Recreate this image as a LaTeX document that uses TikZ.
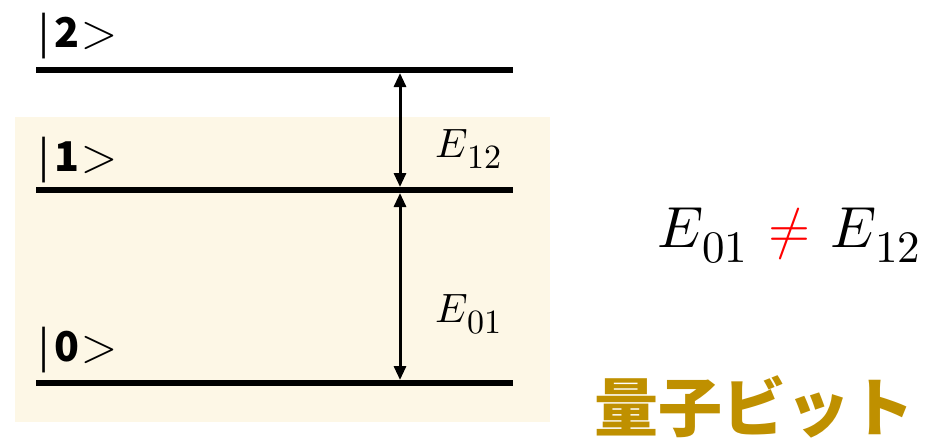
\documentclass[tikz,border=0pt]{standalone}
\usepackage{fontspec}
\usepackage{unicode-math}
\setmathfont{Latin Modern Math}
\usetikzlibrary{arrows.meta}
\newfontfamily\cjk{Noto Sans CJK JP}
\definecolor{bgcream}{RGB}{253,247,230}
\definecolor{qgold}{RGB}{191,144,0}
\tikzset{
  level/.style={line width=6pt},
  gap/.style={line width=3pt,{Triangle[width=12pt,length=14pt]}-{Triangle[width=12pt,length=14pt]}},
  ket/.style={anchor=base west,inner sep=0pt,font=\cjk\fontsize{41}{44}\selectfont},
  plain/.style={anchor=base west,inner sep=0pt},
}
% #1 base size, #2 sub size, #3 drop, #4 digits, #5 kern
\newcommand{\esub}[5]{{\fontsize{#1}{#1}\selectfont$E$}\kern#5\raisebox{-#3}{\fontsize{#2}{#2}\selectfont$#4$}}
\newcommand{\mket}[1]{|\hspace{5pt}{\bfseries #1}\hspace{2pt}{\fontsize{46}{48}\selectfont$>$}}
\begin{document}
\begin{tikzpicture}[x=1pt,y=-1pt]
\useasboundingbox (0,0) rectangle (927,440);
\fill[bgcream] (15,117) rectangle (550,422);
% levels
\coordinate (l2a) at (36,70);  \coordinate (l2b) at (513,70);
\coordinate (l1a) at (36,190); \coordinate (l1b) at (513,190);
\coordinate (l0a) at (36,383); \coordinate (l0b) at (513,383);
\draw[level] (l2a) -- (l2b);
\draw[level] (l1a) -- (l1b);
\draw[level] (l0a) -- (l0b);
\coordinate (a2) at (400,73);
\coordinate (a1t) at (400,187);
\coordinate (a1b) at (400,193);
\coordinate (a0) at (400,380);
\draw[gap] (a2) -- (a1t);
\draw[gap] (a1b) -- (a0);
% labels
\node[ket] (k2) at (38,47) {\mket{2}};
\node[ket] (k1) at (38,171) {\mket{1}};
\node[ket] (k0) at (38,361) {\mket{0}};
\node[plain] (e12) at (435,157) {\esub{41}{34}{11pt}{12}{0pt}};
\node[plain] (e01) at (435,322) {\esub{41}{34}{11pt}{01}{0pt}};
\node[plain] (neq) at (657,247)
  {\esub{58}{45}{15pt}{01}{-1pt}\hspace{21pt}{\fontsize{54}{56}\selectfont\color{red}$\neq$}\hspace{20pt}\esub{58}{45}{15pt}{12}{-1pt}};
\node[plain,text=qgold,font=\cjk\bfseries\fontsize{64}{68}\selectfont] (qb) at (594,431) {量子ビット};
\end{tikzpicture}
\end{document}
